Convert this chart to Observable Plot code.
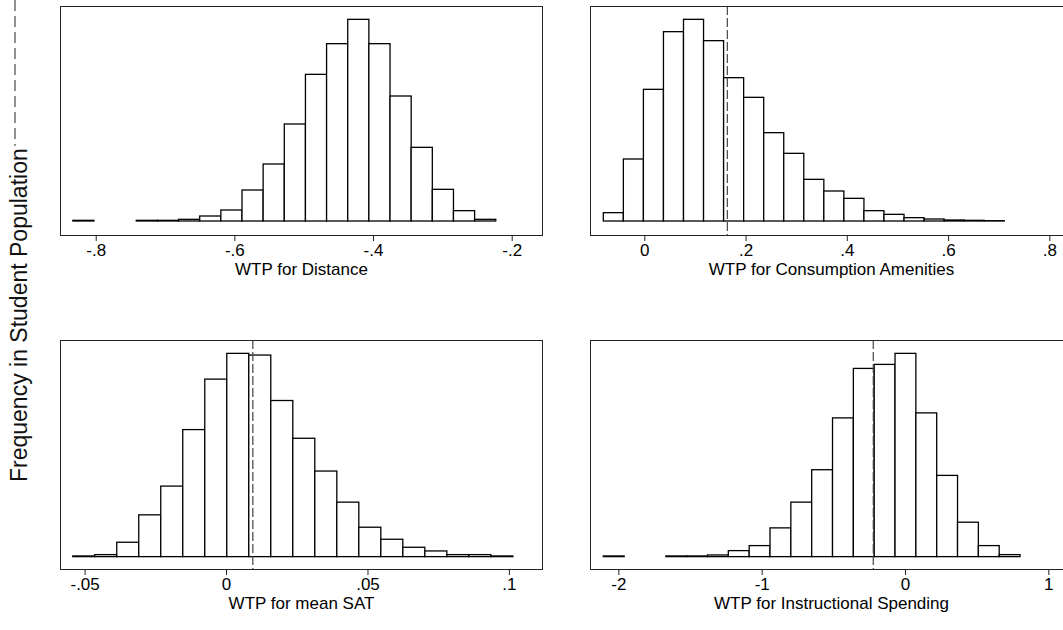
<!DOCTYPE html>
<html>
<head>
<meta charset="utf-8">
<script src="https://cdn.jsdelivr.net/npm/d3@7"></script>
<script src="https://cdn.jsdelivr.net/npm/@observablehq/plot@0.6"></script>
<style>
html, body { margin: 0; padding: 0; background: #fff; overflow: hidden; }
#wrap { position: relative; width: 1063px; height: 630px; overflow: hidden; font-family: "Liberation Sans", Arial, sans-serif; }
.panel { position: absolute; }
.panel svg { overflow: visible; max-width: none !important; }
</style>
</head>
<body>
<div id="wrap"></div>
<script>
// ---- Data (relative bar heights, 20 equal-width bins per panel) ----
const yLabel = "Frequency in Student Population";

const distanceTitle = "WTP for Distance";
const distanceBins = [-0.833, -0.223];
const distanceFreq = [2, 0, 0, 2, 2, 5, 15, 33, 93, 171, 291, 440, 532, 605, 532, 375, 221, 95, 31, 5];
const distanceTicks = [-0.8, -0.6, -0.4, -0.2];
const distanceTickLabels = ["-.8", "-.6", "-.4", "-.2"];
const distanceMean = [];

const amenitiesTitle = "WTP for Consumption Amenities";
const amenitiesBins = [-0.081, 0.711];
const amenitiesFreq = [25, 186, 395, 568, 605, 541, 430, 371, 265, 203, 125, 90, 68, 31, 20, 10, 6, 3, 2, 1];
const amenitiesTicks = [0, 0.2, 0.4, 0.6, 0.8];
const amenitiesTickLabels = ["0", ".2", ".4", ".6", ".8"];
const amenitiesMean = [0.163];

const satTitle = "WTP for mean SAT";
const satBins = [-0.0542, 0.1014];
const satFreq = [2, 6, 43, 125, 211, 380, 531, 608, 603, 467, 354, 256, 163, 88, 52, 28, 17, 6, 6, 2];
const satTicks = [-0.05, 0, 0.05, 0.1];
const satTickLabels = ["-.05", "0", ".05", ".1"];
const satMean = [0.0093];

const spendingTitle = "WTP for Instructional Spending";
const spendingBins = [-2.105, 0.8025];
const spendingFreq = [2, 0, 0, 2, 2, 5, 18, 33, 86, 163, 260, 415, 563, 575, 608, 430, 243, 103, 33, 6];
const spendingTicks = [-2, -1, 0, 1];
const spendingTickLabels = ["-2", "-1", "0", "1"];
const spendingMean = [-0.225];

// ---- Layout ----
const wrap = document.getElementById("wrap");
const FRAME_W = 482, FRAME_H = 229;
const ML = 40, MR = 40, MT = 2, MB = 60;

function panel({left, top, title, bins, freq, ticks, tickLabels, mean, xDomain, yDomain}) {
  const n = freq.length;
  const w = (bins[1] - bins[0]) / n;
  const data = freq.map((f, i) => ({x1: bins[0] + i * w, x2: bins[0] + (i + 1) * w, f}))
                   .filter(d => d.f > 0);
  const labelMap = new Map(ticks.map((t, i) => [t, tickLabels[i]]));
  const W = FRAME_W + ML + MR, H = FRAME_H + MT + MB;
  const chart = Plot.plot({
    width: W,
    height: H,
    marginLeft: ML, marginRight: MR, marginTop: MT, marginBottom: MB,
    style: {fontFamily: "'Liberation Sans', Arial, sans-serif", background: "transparent", color: "#000", maxWidth: "none"},
    x: {domain: xDomain},
    y: {domain: yDomain, axis: null},
    marks: [
      Plot.rectY(data, {x1: "x1", x2: "x2", y: "f", fill: "white", stroke: "black", strokeWidth: 1.3}),
      Plot.ruleX(mean, {stroke: "#444", strokeWidth: 1.2, strokeDasharray: "9,3"}),
      Plot.frame({stroke: "#222", strokeWidth: 1}),
      Plot.axisX({ticks, tickFormat: d => labelMap.get(d), tickSize: 6, tickPadding: 2,
                  fontSize: 17, label: null, stroke: "#222"}),
      Plot.text([title], {frameAnchor: "bottom", dy: 39, fontSize: 17, fill: "black",
                          text: d => d, style: "letter-spacing:-0.6px"})
    ]
  });
  const div = document.createElement("div");
  div.className = "panel";
  div.style.left = (left - ML) + "px";
  div.style.top = (top - MT) + "px";
  div.style.width = W + "px";
  div.style.height = H + "px";
  div.appendChild(chart);
  wrap.appendChild(div);
}

const yTop = [-42, 645];
const yBot = [-37, 648];

panel({left: 60, top: 6, title: distanceTitle, bins: distanceBins, freq: distanceFreq,
       ticks: distanceTicks, tickLabels: distanceTickLabels, mean: distanceMean,
       xDomain: [-0.8515, -0.1563], yDomain: yTop});
panel({left: 590, top: 6, title: amenitiesTitle, bins: amenitiesBins, freq: amenitiesFreq,
       ticks: amenitiesTicks, tickLabels: amenitiesTickLabels, mean: amenitiesMean,
       xDomain: [-0.1073, 0.8448], yDomain: yTop});
panel({left: 60, top: 340, title: satTitle, bins: satBins, freq: satFreq,
       ticks: satTicks, tickLabels: satTickLabels, mean: satMean,
       xDomain: [-0.0587, 0.1117], yDomain: yBot});
panel({left: 590, top: 340, title: spendingTitle, bins: spendingBins, freq: spendingFreq,
       ticks: spendingTicks, tickLabels: spendingTickLabels, mean: spendingMean,
       xDomain: [-2.198, 1.165], yDomain: yBot});

// ---- Shared y-axis label with the dashed stroke running above it ----
const svg = d3.select(wrap).append("svg")
  .attr("width", 40).attr("height", 630)
  .style("position", "absolute").style("left", "0px").style("top", "0px");
svg.append("line").attr("x1", 15).attr("x2", 15).attr("y1", 0).attr("y2", 146)
  .attr("stroke", "#222").attr("stroke-width", 1).attr("stroke-dasharray", "11,5");
svg.append("text")
  .attr("transform", "translate(27,482) rotate(-90)")
  .attr("text-anchor", "start")
  .attr("font-family", "'Liberation Sans', Arial, sans-serif")
  .attr("font-size", 23).attr("fill", "#111")
  .text(yLabel);
</script>
</body>
</html>
